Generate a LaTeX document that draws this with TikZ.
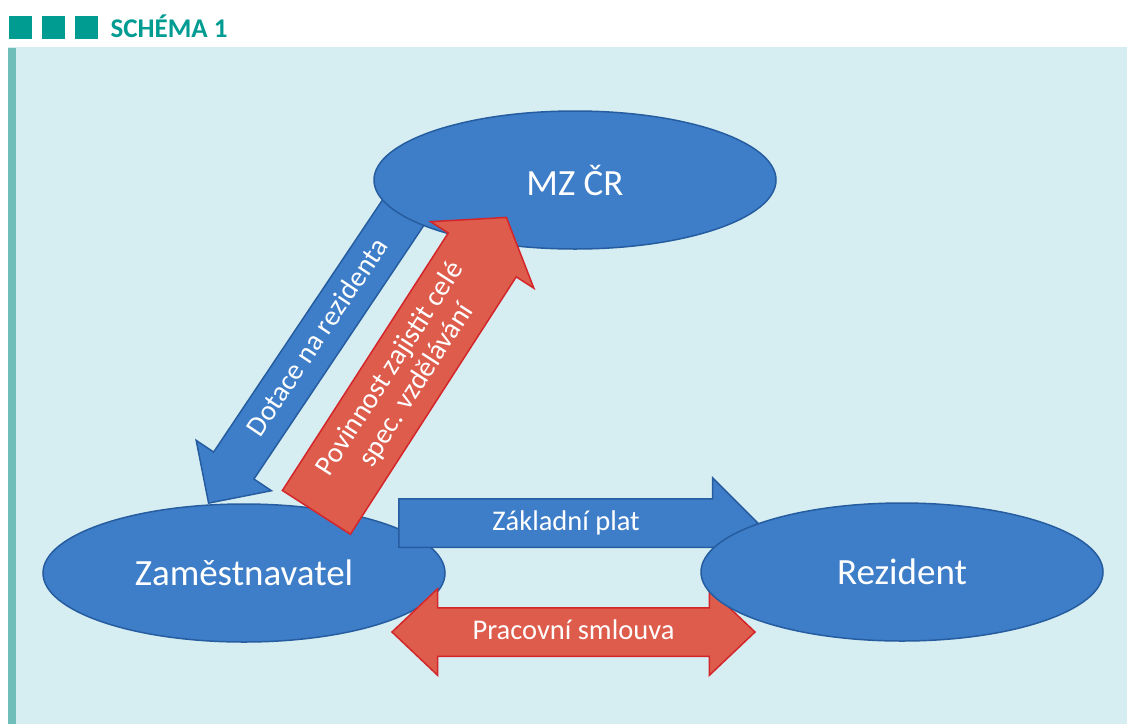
\documentclass[tikz,border=0pt]{standalone}
\usepackage{fontspec}
\setmainfont{Carlito}
\usepackage{tikz}
\usetikzlibrary{shapes.geometric, shapes.arrows, positioning, calc}
\usepackage{xcolor}

\definecolor{schemaTeal}{RGB}{0,156,146}
\definecolor{panelCyan}{RGB}{214,238,241}
\definecolor{barTeal}{RGB}{112,190,186}
\definecolor{ovalBlue}{RGB}{62,126,200}
\definecolor{ovalEdge}{RGB}{38,92,160}
\definecolor{arrowRed}{RGB}{221,92,76}
\definecolor{arrowEdge}{RGB}{212,38,42}

\pgfdeclarelayer{panel}
\pgfdeclarelayer{back}
\pgfdeclarelayer{front}
\pgfsetlayers{panel,back,main,front}

\tikzset{
  oval/.style={ellipse, draw=ovalEdge, line width=1.5pt, fill=ovalBlue, text=white,
    inner sep=0pt, minimum width=402pt, minimum height=138pt, font=\fontsize{37}{40}\selectfont},
  blockarrow/.style={line width=1.5pt, text=white, inner xsep=4pt, font=\fontsize{28.5}{31}\selectfont},
  bluearrow/.style={blockarrow, single arrow, draw=ovalEdge, fill=ovalBlue,
    text height=20pt, text depth=6pt, inner ysep=10.5pt, single arrow head extend=21pt},
  redarrow/.style={blockarrow, single arrow, draw=arrowEdge, fill=arrowRed, align=center,
    inner ysep=12pt, single arrow head extend=21pt, single arrow tip angle=108},
  botharrow/.style={blockarrow, double arrow, draw=arrowEdge, fill=arrowRed,
    text height=20pt, text depth=6pt, inner ysep=10.5pt, double arrow head extend=19pt,
    double arrow tip angle=87},
  headsquare/.style={fill=schemaTeal, minimum size=23pt, inner sep=0pt}
}

\begin{document}
\begin{tikzpicture}[x=1pt, y=-1pt]
  \begin{pgfonlayer}{panel}
    \fill[white] (0,0) rectangle (1127,724);
    \fill[panelCyan] (8,47) rectangle (1127,724);
    \fill[barTeal] (8,48) rectangle (16,724);
  \end{pgfonlayer}
  \useasboundingbox (0,0) rectangle (1127,724);

  \node[headsquare] (sq1) at (20.5,27.5) {};
  \node[headsquare] (sq2) at (53.5,27.5) {};
  \node[headsquare] (sq3) at (86.5,27.5) {};
  \node[anchor=base west, text=schemaTeal, font=\bfseries\fontsize{27}{30}\selectfont] (title) at (107,37) {SCHÉMA 1};

  \coordinate (dotTail) at (415,195);
  \coordinate (dotTip) at (208,504);
  \coordinate (povTail) at (316,513);
  \coordinate (povTip) at (506,218);
  \coordinate (platTail) at (398,523);
  \coordinate (smlLeft) at (392,632);
  \coordinate (smlRight) at (755,632);

  \begin{pgfonlayer}{back}
    \path let \p1=($(dotTail)-(dotTip)$), \n1={atan2(\y1,\x1)}, \n2={veclen(\x1,\y1)} in
      node[bluearrow, rotate=\n1, shape border rotate=180, minimum height=\n2, anchor=tip] (dotace) at (dotTip) {Dotace na rezidenta};
  \end{pgfonlayer}

  \node[oval] (mz) at (575,180) {MZ ČR};
  \node[oval] (zam) at (244,573) {Zaměstnavatel};

  \node[bluearrow, minimum height=359pt, anchor=tail] (plat) at (platTail) {Základní plat};
  \node[botharrow, minimum height=363pt] (smlouva) at ($(smlLeft)!0.5!(smlRight)$) {Pracovní smlouva};

  \begin{pgfonlayer}{front}
    \node[oval] (rez) at (902,572) {Rezident};
    \path let \p2=($(povTip)-(povTail)$), \n1={atan2(\y2,\x2)}, \n2={veclen(\x2,\y2)} in
      node[redarrow, rotate=\n1, minimum height=\n2, anchor=tail] (povinnost) at (povTail) {Povinnost zajistit celé\\spec. vzdělávání};
  \end{pgfonlayer}
\end{tikzpicture}
\end{document}
